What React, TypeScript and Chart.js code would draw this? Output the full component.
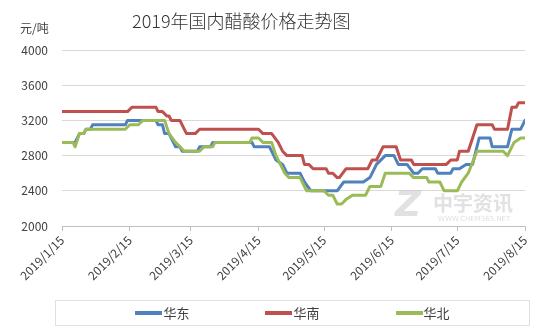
import React, { useEffect, useRef } from "react";
import { Chart, registerables } from "chart.js";

Chart.register(...registerables);

// Day offsets from 2019/1/15 for the monthly tick labels
const tickDays = [0, 31, 59, 90, 120, 151, 181, 212];
const tickLabels = [
  "2019/1/15",
  "2019/2/15",
  "2019/3/15",
  "2019/4/15",
  "2019/5/15",
  "2019/6/15",
  "2019/7/15",
  "2019/8/15",
];

// Price plateaus: [startDay, endDay, price 元/吨]
const eastSegments: [number, number, number][] = [
  [0, 6, 2950], [8, 10, 3050], [11, 13, 3100], [14, 29, 3150], [30, 43, 3200],
  [44, 46, 3150], [47, 49, 3050], [51, 51, 2950], [52, 54, 2900], [55, 62, 2850],
  [63, 68, 2900], [69, 87, 2950], [88, 95, 2900], [98, 98, 2750], [101, 101, 2700],
  [103, 109, 2600], [111, 111, 2500], [114, 126, 2400], [129, 138, 2500], [141, 141, 2550],
  [144, 144, 2700], [148, 152, 2800], [154, 158, 2700], [161, 163, 2600], [165, 171, 2650],
  [172, 178, 2600], [179, 182, 2650], [185, 188, 2700], [191, 196, 3000], [197, 204, 2900],
  [206, 210, 3100], [212, 212, 3200],
];

const southSegments: [number, number, number][] = [
  [0, 30, 3300], [32, 43, 3350], [44, 46, 3300], [48, 49, 3250], [50, 54, 3200],
  [55, 55, 3150], [57, 61, 3050], [63, 90, 3100], [92, 96, 3050], [99, 99, 2950],
  [101, 101, 2850], [103, 110, 2800], [111, 113, 2700], [115, 121, 2650], [122, 124, 2600],
  [126, 127, 2550], [130, 140, 2650], [142, 144, 2750], [147, 153, 2900], [155, 160, 2750],
  [161, 176, 2700], [178, 181, 2750], [182, 186, 2850], [190, 197, 3150], [198, 204, 3100],
  [206, 208, 3350], [209, 212, 3400],
];

const northSegments: [number, number, number][] = [
  [0, 5, 2950], [6, 6, 2900], [8, 10, 3050], [11, 29, 3100], [31, 35, 3150],
  [37, 47, 3200], [49, 49, 3050], [52, 52, 2950], [54, 54, 2900], [56, 63, 2850],
  [65, 69, 2900], [70, 86, 2950], [87, 90, 3000], [92, 96, 2950], [98, 98, 2800],
  [100, 100, 2700], [102, 102, 2600], [104, 109, 2550], [112, 120, 2400], [122, 124, 2350],
  [126, 128, 2250], [130, 130, 2300], [133, 139, 2350], [141, 146, 2450], [148, 159, 2600],
  [161, 167, 2550], [168, 173, 2500], [175, 181, 2400], [183, 183, 2500], [186, 186, 2600],
  [190, 202, 2850], [204, 204, 2800], [207, 207, 2950], [210, 212, 3000],
];

const seriesNames = ["华东", "华南", "华北"];
const seriesColors = ["#4f81bd", "#c0504d", "#9bbb59"];

const yMin = 2000;
const yMax = 4000;
const yStep = 400;

function toPoints(segs: [number, number, number][]) {
  const pts: { x: number; y: number }[] = [];
  for (const [s, e, v] of segs) {
    pts.push({ x: s, y: v });
    if (e !== s) pts.push({ x: e, y: v });
  }
  return pts;
}

const FONT = "'Noto Sans CJK SC', 'Noto Sans', sans-serif";

export default function App() {
  const ref = useRef<HTMLCanvasElement | null>(null);

  useEffect(() => {
    if (!ref.current) return;
    const allSegs = [eastSegments, southSegments, northSegments];
    const orders = [2, 1, 0];
    const chart = new Chart(ref.current, {
      type: "line",
      data: {
        datasets: allSegs.map((segs, i) => ({
          label: seriesNames[i],
          data: toPoints(segs),
          borderColor: seriesColors[i],
          backgroundColor: seriesColors[i],
          borderWidth: 3,
          pointRadius: 0,
          tension: 0,
          fill: false,
          borderJoinStyle: "round" as const,
          borderCapStyle: "round" as const,
          order: orders[i],
        })),
      },
      options: {
        responsive: false,
        animation: false,
        devicePixelRatio: 1,
        layout: { padding: { top: 50, right: 31, bottom: 32, left: 0 } },
        plugins: {
          legend: { display: false },
          title: { display: false },
          tooltip: { enabled: false },
        },
        scales: {
          x: {
            type: "linear",
            min: tickDays[0],
            max: tickDays[tickDays.length - 1],
            afterBuildTicks: (scale: any) => {
              scale.ticks = tickDays.map((v) => ({ value: v }));
            },
            afterFit: (scale: any) => {
              scale.height = 74;
            },
            ticks: {
              autoSkip: false,
              minRotation: 45,
              maxRotation: 45,
              padding: 2,
              color: "#404040",
              font: { family: FONT, size: 12 },
              callback: (v: any) => tickLabels[tickDays.indexOf(Number(v))] ?? "",
            },
            grid: {
              display: true,
              drawOnChartArea: false,
              drawTicks: true,
              tickLength: 5,
              color: "#bfbfbf",
            },
            border: { display: true, color: "#bfbfbf" },
          },
          y: {
            min: yMin,
            max: yMax,
            afterFit: (scale: any) => {
              scale.width = 62;
            },
            ticks: {
              stepSize: yStep,
              padding: 14,
              color: "#404040",
              font: { family: FONT, size: 12 },
              callback: (v: any) => String(v),
            },
            grid: { color: "#d9d9d9", drawTicks: false },
            border: { display: false },
          },
        },
      },
    });
    return () => chart.destroy();
  }, []);

  return (
    <div
      style={{
        position: "fixed",
        left: 0,
        top: 0,
        width: 556,
        height: 332,
        background: "#fff",
        overflow: "hidden",
        fontFamily: FONT,
      }}
    >
      <canvas ref={ref} width={556} height={332} style={{ position: "absolute", left: 0, top: 0 }} />
      <div
        style={{
          position: "absolute",
          left: 132,
          top: 7,
          fontSize: 18,
          fontWeight: 300,
          color: "#333333",
          whiteSpace: "nowrap",
        }}
      >
        2019年国内醋酸价格走势图
      </div>
      <div style={{ position: "absolute", left: 20, top: 19, fontSize: 12, color: "#404040" }}>元/吨</div>
      {/* watermark */}
      <div style={{ position: "absolute", left: 395, top: 186, opacity: 0.55, pointerEvents: "none" }}>
        <span
          style={{
            position: "absolute",
            left: 0,
            top: 0,
            fontSize: 36,
            fontWeight: 900,
            fontStyle: "italic",
            color: "#c8c8c8",
            fontFamily: "'DejaVu Sans', sans-serif",
            lineHeight: "36px",
          }}
        >
          Z
        </span>
        <span
          style={{
            position: "absolute",
            left: 38,
            top: 6,
            fontSize: 20,
            fontWeight: 700,
            color: "#c8c8c8",
            whiteSpace: "nowrap",
            lineHeight: "22px",
          }}
        >
          中宇资讯
        </span>
        <span
          style={{
            position: "absolute",
            left: 43,
            top: 29,
            fontSize: 7,
            color: "#c8c8c8",
            whiteSpace: "nowrap",
            fontFamily: "'DejaVu Sans', sans-serif",
          }}
        >
          WWW.CHEM365.NET
        </span>
      </div>
      <div
        style={{
          position: "absolute",
          left: 55,
          top: 300,
          width: 475,
          height: 26,
          border: "1px solid #e0e0e0",
          boxSizing: "border-box",
          display: "flex",
          alignItems: "center",
          justifyContent: "center",
          gap: 76,
        }}
      >
        {seriesNames.map((n, i) => (
          <div key={n} style={{ display: "flex", alignItems: "center" }}>
            <span style={{ display: "inline-block", width: 27, height: 4, background: seriesColors[i], marginRight: 1 }} />
            <span style={{ fontSize: 13, color: "#404040", lineHeight: "16px" }}>{n}</span>
          </div>
        ))}
      </div>
    </div>
  );
}
